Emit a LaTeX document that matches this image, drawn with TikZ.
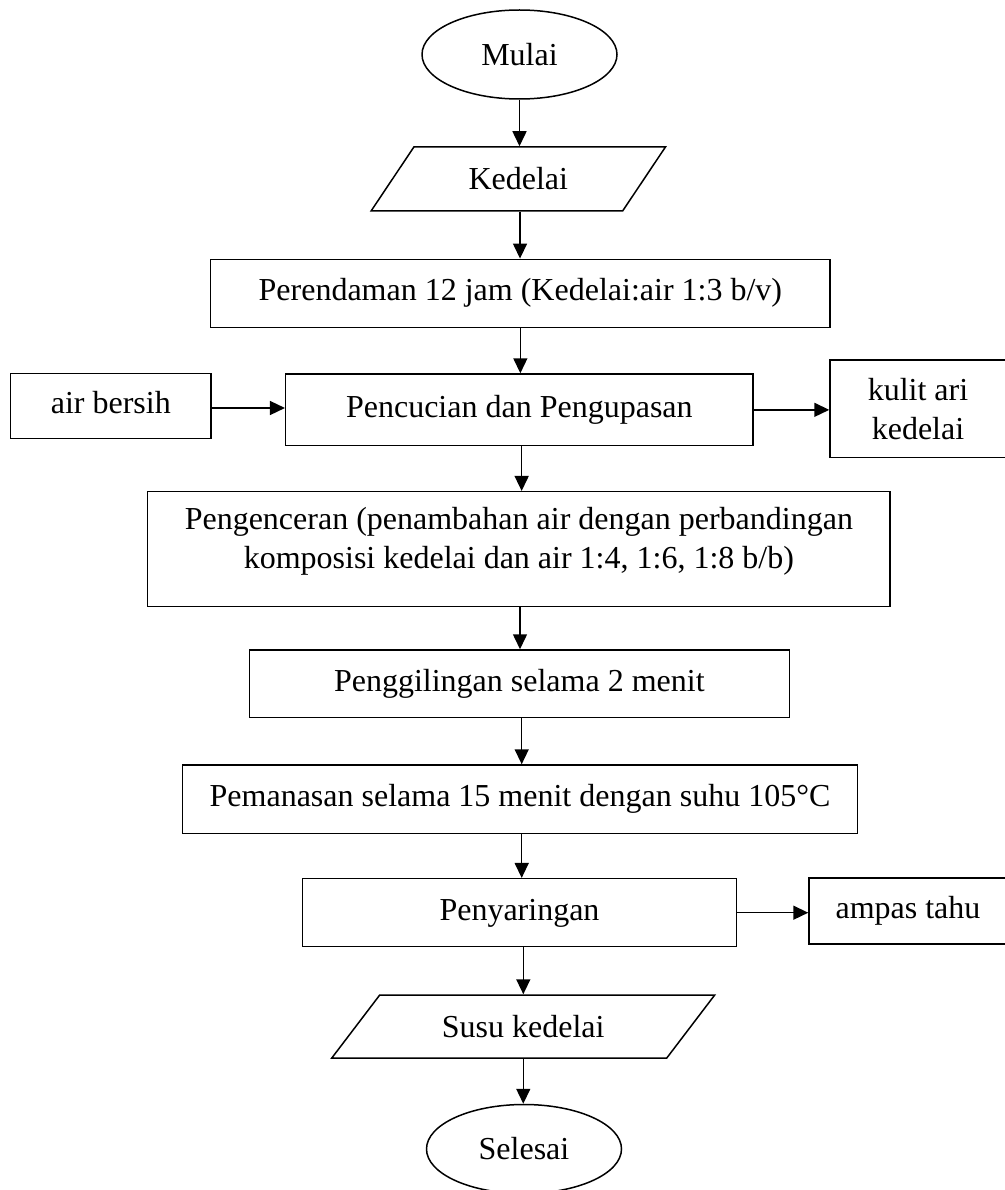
\documentclass[tikz,border=0pt]{standalone}
\usepackage{fontspec}
\setmainfont{Liberation Serif}
\usetikzlibrary{arrows.meta,shapes.geometric}
\begin{document}
\begin{tikzpicture}[x=1pt,y=-1pt,
  font=\fontsize{32}{39}\selectfont,
  line width=1.5pt,
  box/.style={draw, rectangle, inner sep=0pt, text height=22pt, text depth=7.3pt},
  mbox/.style={draw, rectangle, inner sep=0pt, align=center},
  term/.style={draw, ellipse, inner sep=0pt, minimum width=195pt, minimum height=89pt},
  io/.style={draw, trapezium, trapezium stretches=true, inner sep=0pt},
  arr/.style={-{Triangle[length=15pt,width=14pt]}}]
\useasboundingbox (0,0) rectangle (1004,1190);

\node[term] (mulai) at (519.5,54.5) {Mulai};
\node[io, trapezium left angle=47.8, trapezium right angle=132.2,
      minimum width=295pt, minimum height=64pt] (kedelai) at (518.25,179) {Kedelai};
\node[box, minimum width=619.3pt, minimum height=68pt] (rend) at (520.35,293.3)
  {Perendaman 12 jam (Kedelai:air 1:3 b/v)};
\node[box, minimum width=200.3pt, minimum height=65pt] (air) at (110.85,405.8) {air bersih};
\node[box, minimum width=467.3pt, minimum height=71.7pt] (cuci) at (519.35,409.85)
  {Pencucian dan Pengupasan};
\node[mbox, minimum width=176pt, minimum height=97.3pt] (kulit) at (918,408.65)
  {kulit ari\\kedelai};
\node[draw, rectangle, inner sep=0pt, minimum width=742.3pt, minimum height=115pt] (peng)
  at (518.85,549.2)
  {\raisebox{1.5pt}[0pt][0pt]{\begin{tabular}{@{}c@{}}Pengenceran (penambahan air dengan perbandingan\\komposisi kedelai dan air 1:4, 1:6, 1:8 b/b)\end{tabular}}};
\node[box, minimum width=540pt, minimum height=67.3pt] (giling) at (519.3,683.65)
  {Penggilingan selama 2 menit};
\node[box, minimum width=674.6pt, minimum height=68.3pt] (panas) at (520,799.15)
  {Pemanasan selama 15 menit dengan suhu 105°C};
\node[box, minimum width=434.4pt, minimum height=68pt] (saring) at (519.5,912.7)
  {Penyaringan};
\node[box, minimum width=198pt, minimum height=66pt] (ampas) at (908,911) {ampas tahu};
\node[io, trapezium left angle=39.66, trapezium right angle=140.34,
      minimum width=383pt, minimum height=63pt] (susu) at (523.25,1026.5) {Susu kedelai};
\node[term] (selesai) at (524,1149) {Selesai};

\draw[arr] (mulai.south) -- (mulai.south |- kedelai.north);
\draw[arr] ([xshift=1.75pt]kedelai.south) -- ([xshift=1.75pt]kedelai.south |- rend.north);
\draw[arr] (rend.south) -- (rend.south |- cuci.north);
\draw[arr] ([xshift=2.3pt]cuci.south) -- ([xshift=2.3pt]cuci.south |- peng.north);
\draw[arr] ([xshift=1.15pt]peng.south) -- ([xshift=1.15pt]peng.south |- giling.north);
\draw[arr] ([xshift=2.4pt]giling.south) -- ([xshift=2.4pt]giling.south |- panas.north);
\draw[arr] ([xshift=1.7pt]panas.south) -- ([xshift=1.7pt]panas.south |- saring.north);
\draw[arr] ([xshift=3.8pt]saring.south) -- ([xshift=3.8pt]saring.south |- susu.north);
\draw[arr] (susu.south) -- (susu.south |- selesai.north);

\draw[arr] (air.east |- 0,408) -- (cuci.west |- 0,408);
\draw[arr] (cuci.east) -- (cuci.east -| kulit.west);
\draw[arr] (saring.east) -- (saring.east -| ampas.west);
\end{tikzpicture}
\end{document}
